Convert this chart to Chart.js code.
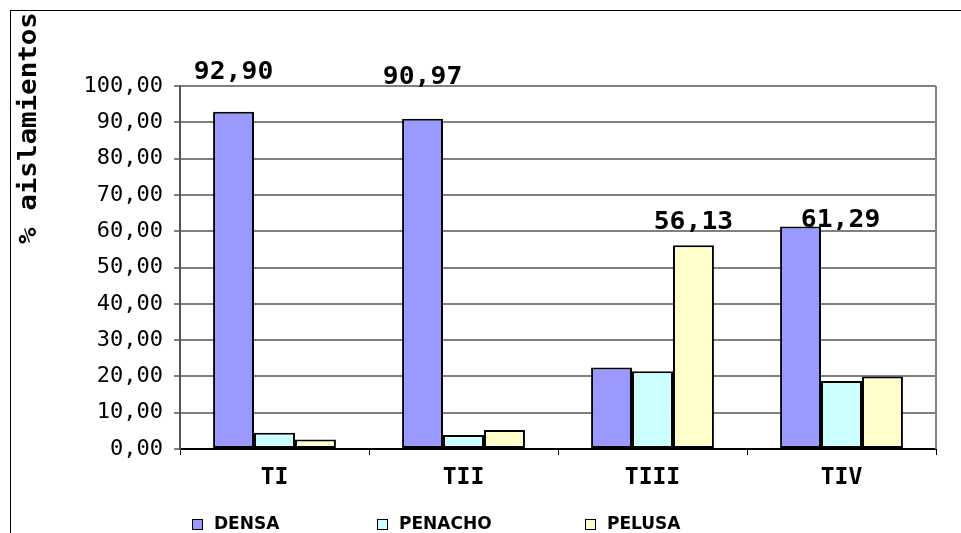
<!DOCTYPE html>
<html>
<head>
<meta charset="utf-8">
<script src="https://cdn.jsdelivr.net/npm/chart.js@4/dist/chart.umd.min.js"></script>
<style>
  html, body { margin: 0; padding: 0; background: #fff; overflow: hidden; }
  #wrap { position: relative; width: 961px; height: 533px; }
  #frame { position: absolute; left: 10px; top: 10px; width: 960px; height: 530px;
           border-left: 1px solid #000; border-top: 1px solid #000; pointer-events: none; }
  canvas { position: absolute; left: 0; top: 0; }
</style>
</head>
<body>
<div id="wrap">
  <canvas id="chart" width="961" height="533"></canvas>
  <div id="frame"></div>
</div>
<script>
const categories = ['TI', 'TII', 'TIII', 'TIV'];
const densa = [92.90, 90.97, 22.45, 61.29];
const penacho = [4.50, 3.83, 21.42, 18.71];
const pelusa = [2.60, 5.20, 56.13, 20.00];
const yTicks = [0, 10, 20, 30, 40, 50, 60, 70, 80, 90, 100];

function fmt(v) {
    return v.toFixed(2).replace('.', ',');
}

// value labels shown only on some bars: [dataset, index, dx, dy]
const valueLabels = {
    id: 'valueLabels',
    afterDatasetsDraw(chart, args, opts) {
        const {ctx} = chart;
        ctx.save();
        ctx.font = 'bold 24px "DejaVu Sans Mono"';
        ctx.fillStyle = '#000';
        ctx.textAlign = 'center';
        ctx.textBaseline = 'middle';
        opts.items.forEach(([ds, i, dx, dy]) => {
            const bar = chart.getDatasetMeta(ds).data[i];
            const v = chart.data.datasets[ds].data[i];
            ctx.save();
            ctx.translate(bar.x + dx, bar.y + dy);
            ctx.scale(1.1, 1);
            ctx.fillText(fmt(v), 0, 0);
            ctx.restore();
        });
        ctx.restore();
    }
};

const extras = {
    id: 'extras',
    afterDraw(chart, args, opts) {
        const {ctx, chartArea} = chart;
        ctx.save();
        // right border of plot
        ctx.strokeStyle = '#808080';
        ctx.lineWidth = 2;
        ctx.beginPath();
        ctx.moveTo(chartArea.right, chartArea.top);
        ctx.lineTo(chartArea.right, chartArea.bottom);
        ctx.stroke();

        // y axis title
        ctx.translate(opts.titleX, opts.titleY);
        ctx.rotate(-Math.PI / 2);
        ctx.scale(1.1, 1);
        ctx.font = 'bold 25px "DejaVu Sans Mono"';
        ctx.fillStyle = '#000';
        ctx.textAlign = 'center';
        ctx.textBaseline = 'middle';
        ctx.fillText('% aislamientos', 0, 0);
        ctx.setTransform(1, 0, 0, 1, 0, 0);

        // legend
        ctx.font = 'bold 17px "DejaVu Sans"';
        ctx.textAlign = 'left';
        ctx.textBaseline = 'middle';
        chart.data.datasets.forEach((d, i) => {
            const x = opts.legendX[i];
            const y = opts.legendY;
            ctx.fillStyle = d.backgroundColor;
            ctx.fillRect(x, y - 5, 10, 10);
            ctx.strokeStyle = '#000';
            ctx.lineWidth = 1;
            ctx.strokeRect(x + 0.5, y - 4.5, 10, 10);
            ctx.fillStyle = '#000';
            ctx.fillText(d.label, x + 22, y + 1);
        });
        ctx.restore();
    }
};

new Chart(document.getElementById('chart'), {
    type: 'bar',
    data: {
        labels: categories,
        datasets: [
            {label: 'DENSA', data: densa, backgroundColor: '#9999FF'},
            {label: 'PENACHO', data: penacho, backgroundColor: '#CCFFFF'},
            {label: 'PELUSA', data: pelusa, backgroundColor: '#FFFFCC'}
        ].map(d => Object.assign(d, {
            borderColor: '#000', borderWidth: 2, borderSkipped: false,
            categoryPercentage: 0.65, barPercentage: 1
        }))
    },
    options: {
        responsive: false,
        animation: false,
        layout: {padding: {top: 86, right: 25, bottom: 0, left: 0}},
        plugins: {
            legend: {display: false},
            tooltip: {enabled: false},
            valueLabels: {items: [[0, 0, 0, -39], [0, 1, 0, -41], [2, 2, 0, -22], [0, 3, 40, -6]]},
            extras: {titleX: 29, titleY: 128, legendX: [192, 377, 585], legendY: 524}
        },
        scales: {
            x: {
                afterFit(s) { s.height = 84; },
                grid: {drawOnChartArea: false, color: '#000', lineWidth: 1, tickLength: 6, offset: true},
                border: {color: '#000', width: 2},
                ticks: {color: '#000', padding: 9, font: {family: 'DejaVu Sans Mono', size: 23, weight: 'bold'}}
            },
            y: {
                min: 0,
                max: 100,
                afterFit(s) { s.width = 180; },
                afterBuildTicks(s) { s.ticks = yTicks.map(v => ({value: v})); },
                grid: {color: '#808080', lineWidth: 2, tickLength: 6},
                border: {color: '#555', width: 2},
                ticks: {
                    color: '#000', padding: 11,
                    font: {family: 'DejaVu Sans Mono', size: 22},
                    callback: v => fmt(v)
                }
            }
        }
    },
    plugins: [valueLabels, extras]
});
</script>
</body>
</html>
